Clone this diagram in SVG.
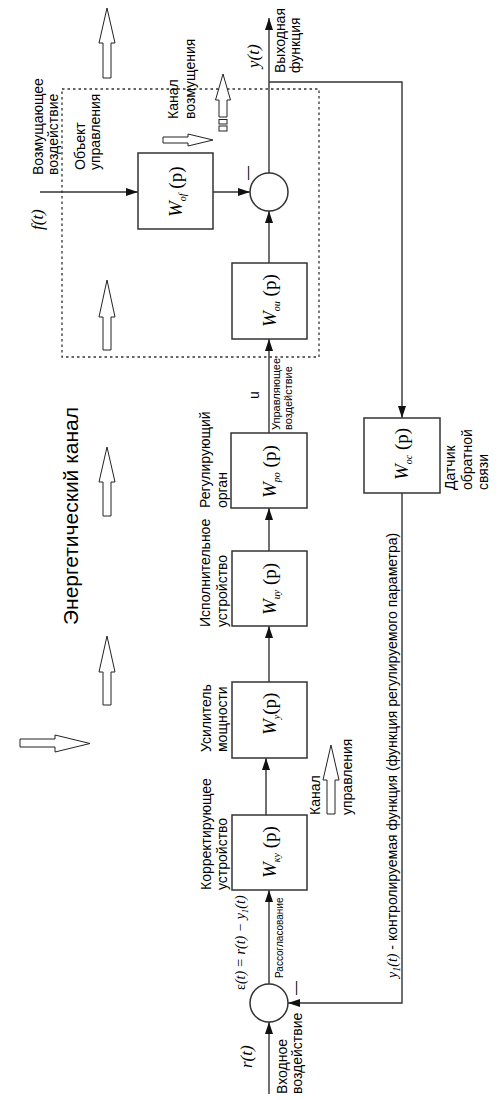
<svg xmlns="http://www.w3.org/2000/svg" width="499" height="1100" viewBox="0 0 499 1100">
<style>
.lbl{font-family:"Liberation Sans",Arial,sans-serif;font-size:14px;fill:#000}
.sm{font-size:11px}
.xs{font-size:10px}
.big{font-size:21px}
.m{font-family:"Liberation Serif","Times New Roman",serif;font-style:italic;fill:#000}
.w{font-family:"Liberation Serif","Times New Roman",serif;font-size:19px;fill:#000}
.wi{font-style:italic}
.sub{font-style:italic;font-size:10px}
.box{fill:#fff;stroke:#333;stroke-width:1.5}
.ln{fill:none;stroke:#333;stroke-width:1.4}
.hol{fill:#fff;stroke:#222;stroke-width:1}
.dot{fill:none;stroke:#333;stroke-width:1.3;stroke-dasharray:2.5,3}
</style>
<defs>
<marker id="ah" viewBox="0 0 12 8" refX="12" refY="4" markerWidth="12" markerHeight="8" markerUnits="userSpaceOnUse" orient="auto">
<path d="M0,0 L12,4 L0,8 Z" fill="#111"/>
</marker>
</defs>
<rect width="499" height="1100" fill="#fff"/>

<!-- object boundary -->
<rect class="dot" x="62" y="89" width="257" height="268"/>

<!-- hollow arrows -->
<g id="energy-arrows">
<polygon class="hol" points="107,8 115,43 111,43 111,78 103,78 103,43 99,43"/>
<polygon class="hol" points="107,280 115,317 111,317 111,350 103,350 103,317 99,317"/>
<polygon class="hol" points="107,447 115,482 111,482 111,516 103,516 103,482 99,482"/>
<polygon class="hol" points="107,636 115,672 111,672 111,705 103,705 103,672 99,672"/>
<polygon class="hol" points="20,739 55,739 55,735 90,743.5 55,752 55,747 20,747"/>
</g>
<g id="disturb-arrows">
<polygon class="hol" points="223,74 230.5,100 227,100 227,117 219,117 219,100 215.5,100"/>
<rect class="hol" x="219" y="119.5" width="8" height="4.5"/>
<rect class="hol" x="219" y="126" width="8" height="5"/>
<polygon class="hol" points="163,137 188,137 188,134 213,140 188,146 188,143 163,143"/>
</g>
<g id="control-arrow">
<polygon class="hol" points="331,745 339,780 335,780 335,814 327,814 327,780 323,780"/>
</g>

<!-- connectors -->
<g id="connectors">
<line class="ln" x1="40" y1="192" x2="138" y2="192" marker-end="url(#ah)"/>
<line class="ln" x1="213" y1="192" x2="250" y2="192" marker-end="url(#ah)"/>
<line class="ln" x1="269" y1="263" x2="269" y2="211" marker-end="url(#ah)"/>
<line class="ln" x1="269" y1="173" x2="269" y2="18" marker-end="url(#ah)"/>
<polyline class="ln" points="269,82 402,82 402,418" marker-end="url(#ah)"/>
<polyline class="ln" points="402,493 402,1003 288,1003" marker-end="url(#ah)"/>
<line class="ln" x1="269" y1="1094" x2="269" y2="1022" marker-end="url(#ah)"/>
<line class="ln" x1="269" y1="984" x2="269" y2="890" marker-end="url(#ah)"/>
<line class="ln" x1="266" y1="815" x2="266" y2="758" marker-end="url(#ah)"/>
<line class="ln" x1="269" y1="682" x2="269" y2="626" marker-end="url(#ah)"/>
<line class="ln" x1="269" y1="551" x2="269" y2="508" marker-end="url(#ah)"/>
<line class="ln" x1="269" y1="433" x2="269" y2="339" marker-end="url(#ah)"/>
</g>

<!-- nodes -->
<g id="W_of">
<rect class="box" x="138" y="153" width="75" height="76"/>
<text class="w" transform="translate(182,217) rotate(-90)"><tspan class="wi">W</tspan><tspan class="sub" dy="4">of</tspan><tspan dy="-4"> (p)</tspan></text>
</g>
<g id="sum_top">
<circle cx="269" cy="192" r="19" fill="#fff" stroke="#333" stroke-width="1.5"/>
<text class="lbl" font-size="16" transform="translate(252,180) rotate(-90)">—</text>
</g>
<g id="W_ou">
<rect class="box" x="232" y="263" width="75" height="76"/>
<text class="w" transform="translate(276,327) rotate(-90)"><tspan class="wi">W</tspan><tspan class="sub" dy="4">ou</tspan><tspan dy="-4"> (p)</tspan></text>
</g>
<g id="W_po">
<rect class="box" x="231" y="433" width="76" height="75"/>
<text class="w" transform="translate(276,498) rotate(-90)"><tspan class="wi">W</tspan><tspan class="sub" dy="4">ро</tspan><tspan dy="-4"> (p)</tspan></text>
</g>
<g id="W_iy">
<rect class="box" x="232" y="551" width="75" height="75"/>
<text class="w" transform="translate(276,615) rotate(-90)"><tspan class="wi">W</tspan><tspan class="sub" dy="4">иу</tspan><tspan dy="-4"> (p)</tspan></text>
</g>
<g id="W_y">
<rect class="box" x="232" y="682" width="75" height="76"/>
<text class="w" transform="translate(276,735) rotate(-90)"><tspan class="wi">W</tspan><tspan class="sub" dy="4">у</tspan><tspan dy="-4">(p)</tspan></text>
</g>
<g id="W_ky">
<rect class="box" x="232" y="815" width="75" height="75"/>
<text class="w" transform="translate(276,878) rotate(-90)"><tspan class="wi">W</tspan><tspan class="sub" dy="4">ку</tspan><tspan dy="-4"> (p)</tspan></text>
</g>
<g id="W_oc">
<rect class="box" x="364" y="418" width="76" height="75"/>
<text class="w" transform="translate(408,480) rotate(-90)"><tspan class="wi">W</tspan><tspan class="sub" dy="4">ос</tspan><tspan dy="-4"> (p)</tspan></text>
</g>
<g id="sum_bottom">
<circle cx="269" cy="1003" r="19" fill="#fff" stroke="#333" stroke-width="1.5"/>
<text class="lbl" font-size="13" transform="translate(300,995) rotate(-90)">—</text>
</g>

<!-- labels -->
<g id="labels">
<text class="lbl" transform="translate(43,175) rotate(-90)">Возмущающее</text>
<text class="lbl" transform="translate(58,175) rotate(-90)">воздействие</text>
<text class="m" font-size="17" transform="translate(43,230) rotate(-90)">f(t)</text>
<text class="lbl" transform="translate(85,170) rotate(-90)">Объект</text>
<text class="lbl" transform="translate(100,170) rotate(-90)">управления</text>
<text class="lbl" transform="translate(178,119) rotate(-90)">Канал</text>
<text class="lbl" transform="translate(195,119) rotate(-90)">возмущения</text>
<text class="m" font-size="17" transform="translate(259,68) rotate(-90)">y(t)</text>
<text class="lbl" transform="translate(285,73) rotate(-90)">Выходная</text>
<text class="lbl" transform="translate(300,73) rotate(-90)">функция</text>
<text class="lbl big" transform="translate(78,625) rotate(-90)">Энергетический канал</text>
<text class="lbl" transform="translate(259,399) rotate(-90)">u</text>
<text class="lbl sm" transform="translate(280,430) rotate(-90)">Управляющее</text>
<text class="lbl sm" transform="translate(292,430) rotate(-90)">воздействие</text>
<text class="lbl" transform="translate(210,508) rotate(-90)">Регулирующий</text>
<text class="lbl" transform="translate(227,508) rotate(-90)">орган</text>
<text class="lbl" transform="translate(210,627) rotate(-90)">Исполнительное</text>
<text class="lbl" transform="translate(227,627) rotate(-90)">устройство</text>
<text class="lbl" transform="translate(211,752) rotate(-90)">Усилитель</text>
<text class="lbl" transform="translate(227,752) rotate(-90)">мощности</text>
<text class="lbl" transform="translate(211,890) rotate(-90)">Корректирующее</text>
<text class="lbl" transform="translate(227,890) rotate(-90)">устройство</text>
<text class="lbl" transform="translate(320,815) rotate(-90)">Канал</text>
<text class="lbl" transform="translate(352,815) rotate(-90)">управления</text>
<text class="lbl" transform="translate(455,490) rotate(-90)">Датчик</text>
<text class="lbl" transform="translate(472,490) rotate(-90)">обратной</text>
<text class="lbl" transform="translate(488,490) rotate(-90)">связи</text>
<text class="lbl" font-size="16" transform="translate(397,978) rotate(-90)"><tspan class="m">y</tspan><tspan class="m" font-size="10" dy="3">1</tspan><tspan class="m" dy="-3">(t)</tspan> - контролируемая функция (функция регулируемого параметра)</text>
<text class="m" font-size="14" transform="translate(245,990) rotate(-90)"><tspan font-style="normal">ε</tspan>(t) = r(t) − y<tspan font-size="9" dy="3">1</tspan><tspan dy="-3">(t)</tspan></text>
<text class="lbl xs" transform="translate(283,978) rotate(-90)">Рассогласование</text>
<text class="m" font-size="17" transform="translate(252,1068) rotate(-90)">r(t)</text>
<text class="lbl" transform="translate(287,1094) rotate(-90)">Входное</text>
<text class="lbl" transform="translate(302,1094) rotate(-90)">воздействие</text>
</g>
</svg>
